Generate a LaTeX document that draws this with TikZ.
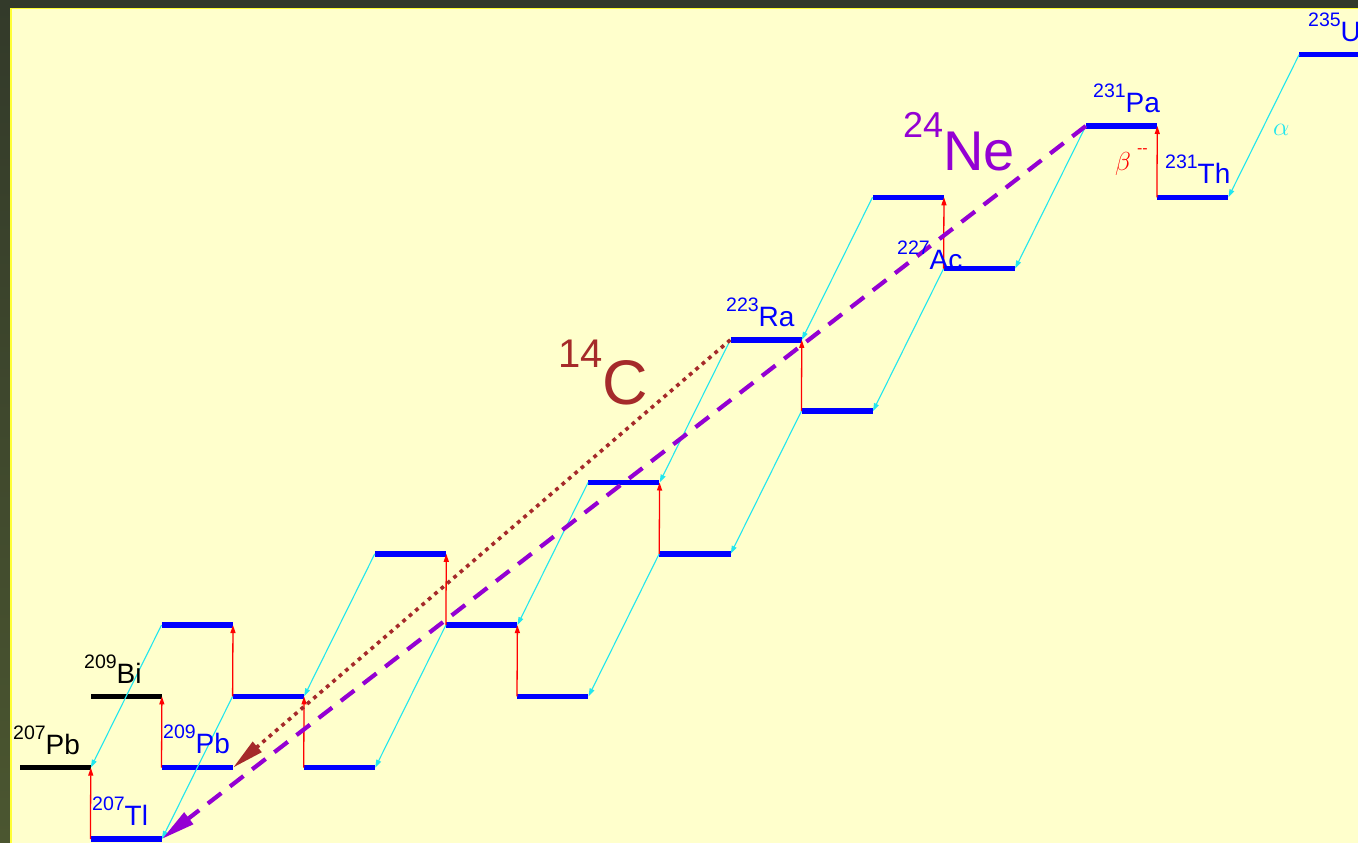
\RequirePackage{fix-cm}
\documentclass[tikz,border=0pt]{standalone}
\usepackage{fontspec}
\setmainfont{Liberation Sans}
\usetikzlibrary{arrows.meta}
\definecolor{bgyellow}{HTML}{FFFFCC}
\definecolor{frameA}{HTML}{333A2A}
\definecolor{frameB}{HTML}{4B5630}
\definecolor{edgeyellow}{HTML}{FFFF33}
\definecolor{alphac}{HTML}{22E6EE}
\definecolor{betared}{HTML}{FF0000}
\definecolor{neviolet}{HTML}{9400D3}
\definecolor{cbrown}{HTML}{A52A2A}
\definecolor{nucblue}{HTML}{0000FF}
\newcommand\nuclab[2]{\raisebox{15pt}{\fontsize{19.5}{20}\selectfont #1}\fontsize{28}{30}\selectfont #2}
\begin{document}
\begin{tikzpicture}[x=1pt,y=-1pt,
  lvl/.style={rectangle, inner sep=0pt, minimum width=71.1pt, minimum height=5.5pt, fill=nucblue},
  stable/.style={lvl, fill=black},
  adecay/.style={draw=alphac, line width=1.1pt, -{Triangle[length=8pt,width=5pt]}},
  bdecay/.style={draw=betared, line width=1.3pt, -{Triangle[length=8pt,width=5pt]}},
  nedecay/.style={draw=neviolet, line width=4.2pt, dash pattern=on 17pt off 11pt, -{Triangle[length=34pt,width=14pt]}},
  cdecay/.style={draw=cbrown, line width=3.6pt, dash pattern=on 3.8pt off 4.6pt, -{Triangle[length=32pt,width=13pt]}},
  lab/.style={inner sep=0pt, anchor=base west, text=nucblue},
]
\useasboundingbox (0,0) rectangle (1358,843);
\begin{scope}
\clip (0,0) rectangle (1358,843);
% frame and background
\fill[frameA] (0,0) rectangle (1358,843);
\shade[top color=frameA, bottom color=frameB] (0,0) rectangle (10,843);
\fill[edgeyellow] (10,8) rectangle (1358,843);
\fill[bgyellow] (11.5,9.5) rectangle (1358,843);
% levels
\foreach \n/\c/\r in {Tl207/1/0, Pb209/2/1, Pb211/4/1, Bi211/3/2, Bi215/7/2, Po211/2/3, Po215/6/3, At215/5/4, At219/9/4, Rn219/8/5, Fr223/11/6, Ra223/10/7, Ac227/13/8, Th227/12/9, Th231/16/9, Pa231/15/10, U235/18/11}
  \node[lvl] (\n) at ({55.05+71.1*\c},{839-71.3*\r}) {};
\node[stable] (Pb207) at (55.05,767.7) {};
\node[stable] (Bi209) at (126.15,696.4) {};
% alpha decays
\foreach \p/\d in {U235/Th231, Pa231/Ac227, Th227/Ra223, Ac227/Fr223, Ra223/Rn219, Fr223/At219, Rn219/Po215, At219/Bi215, Po215/Pb211, At215/Bi211, Bi211/Tl207, Po211/Pb207}
  \draw[adecay] (\p.west) -- (\d.east);
% beta decays
\foreach \p/\d in {Tl207/Pb207, Pb209/Bi209, Pb211/Bi211, Bi211/Po211, Bi215/Po215, Po215/At215, At219/Rn219, Fr223/Ra223, Ac227/Th227, Th231/Pa231}
  \draw[bdecay] (\p.west) -- (\d.east);
% cluster decays
\draw[cdecay] (Ra223.west) -- (Pb209.east);
\draw[nedecay] (Pa231.west) -- (Tl207.east);
% labels
\node[lab, text=black] (lPb207) at (13,754) {\nuclab{207}{Pb}};
\node[lab, text=black] (lBi209) at (84,683) {\nuclab{209}{Bi}};
\node[lab] (lPb209) at (163,753) {\nuclab{209}{Pb}};
\node[lab] (lTl207) at (92,825) {\nuclab{207}{Tl}};
\node[lab] (lRa223) at (726,326) {\nuclab{223}{Ra}};
\node[lab] (lAc227) at (897,269) {\nuclab{227}{Ac}};
\node[lab] (lPa231) at (1093,112) {\nuclab{231}{Pa}};
\node[lab] (lTh231) at (1165,183) {\nuclab{231}{Th}};
\node[lab] (lU235) at (1308,42) {\nuclab{235}{U}};
\node[lab, text=alphac] (lalpha) at (1273,135) {\fontsize{26}{26}\selectfont$\alpha$};
\node[lab, text=betared] (lbeta) at (1115,170) {\fontsize{26}{26}\selectfont$\beta$\hspace{6pt}\raisebox{17pt}{\fontsize{16}{16}\selectfont -{}-}};
\node[lab, text=neviolet] (lNe) at (903,170) {\raisebox{33pt}{\fontsize{36}{36}\selectfont 24}\fontsize{56}{56}\selectfont Ne};
\node[lab, text=cbrown] (lC) at (558,404) {\raisebox{37pt}{\fontsize{40}{40}\selectfont 14}\fontsize{63}{63}\selectfont C};
\end{scope}
\end{tikzpicture}
\end{document}
